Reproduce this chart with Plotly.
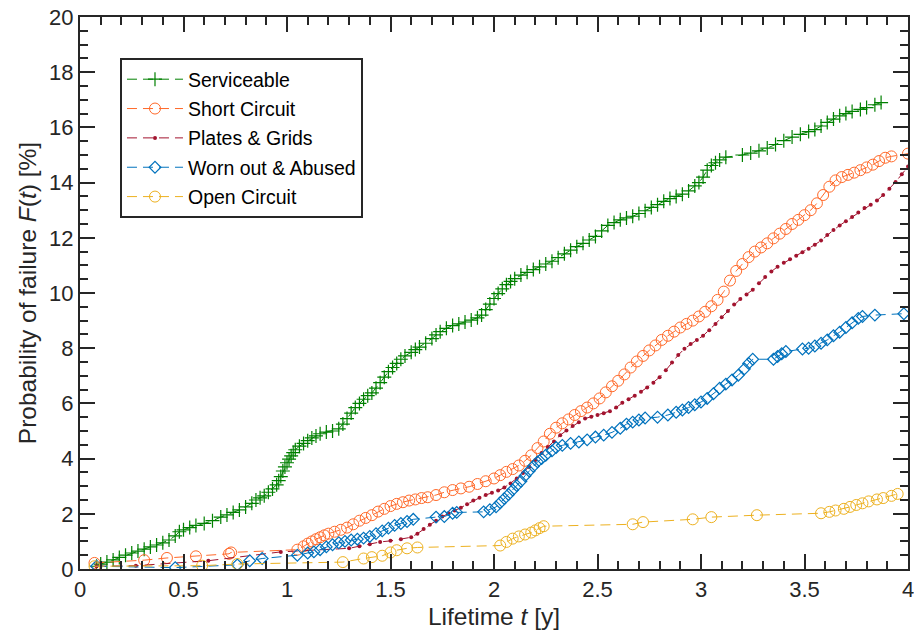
import plotly.graph_objects as go

# ---------------- data ----------------
serv_t = [0.08,0.10,0.13,0.16,0.19,0.22,0.25,0.28,0.31,0.34,0.37,0.40,0.43,0.46,0.48,0.50,0.53,0.56,0.60,0.64,
          0.68,0.71,0.74,0.77,0.80,0.83,0.85,0.87,0.89,0.91,0.93,0.95,0.96,0.97,0.98,0.99,1.00,1.01,1.02,1.03,
          1.04,1.06,1.08,1.10,1.12,1.14,1.16,1.19,1.22,1.25,1.27,1.29,1.31,1.33,1.35,1.37,1.39,1.41,1.43,1.45,
          1.47,1.49,1.51,1.53,1.55,1.57,1.60,1.62,1.64,1.67,1.70,1.72,1.74,1.77,1.80,1.83,1.86,1.89,1.92,1.94,
          1.96,1.98,2.00,2.02,2.04,2.06,2.08,2.10,2.13,2.16,2.19,2.22,2.25,2.28,2.31,2.34,2.37,2.40,2.43,2.46,
          2.49,2.52,2.55,2.58,2.61,2.64,2.67,2.70,2.73,2.76,2.79,2.82,2.85,2.88,2.91,2.94,2.97,2.99,3.01,3.03,
          3.05,3.07,3.09,3.12,3.20,3.24,3.28,3.32,3.36,3.40,3.44,3.48,3.52,3.55,3.58,3.61,3.64,3.67,3.70,3.73,
          3.77,3.80,3.84,3.87]
serv_F = [0.10,0.18,0.25,0.33,0.42,0.50,0.58,0.65,0.72,0.80,0.87,0.95,1.05,1.20,1.35,1.42,1.50,1.58,1.65,1.75,
          1.88,1.96,2.05,2.14,2.25,2.38,2.50,2.58,2.65,2.78,2.90,3.05,3.20,3.35,3.55,3.70,3.85,3.98,4.10,4.22,
          4.32,4.45,4.55,4.65,4.75,4.82,4.90,4.96,5.00,5.08,5.25,5.45,5.65,5.85,6.00,6.15,6.28,6.38,6.55,6.75,
          6.95,7.15,7.30,7.45,7.60,7.72,7.85,7.95,8.04,8.18,8.35,8.48,8.60,8.72,8.82,8.88,8.95,9.02,9.10,9.20,
          9.40,9.60,9.80,9.98,10.15,10.30,10.42,10.52,10.65,10.75,10.85,10.95,11.05,11.15,11.28,11.42,11.55,11.68,11.80,11.92,
          12.05,12.25,12.45,12.55,12.65,12.72,12.78,12.88,12.98,13.10,13.20,13.32,13.42,13.50,13.58,13.70,13.88,14.00,14.20,14.45,
          14.62,14.72,14.82,14.92,15.00,15.07,15.15,15.25,15.38,15.52,15.65,15.75,15.85,15.92,16.05,16.18,16.30,16.42,16.50,16.58,
          16.65,16.72,16.82,16.90]

short_t = [0.07,0.31,0.42,0.56,0.72,0.73,1.05,1.08,1.10,1.12,1.14,1.16,1.18,1.20,1.23,1.26,1.29,1.32,1.35,1.38,
           1.41,1.44,1.47,1.50,1.53,1.56,1.59,1.62,1.65,1.68,1.72,1.76,1.80,1.84,1.88,1.92,1.96,2.00,2.03,2.06,
           2.09,2.12,2.15,2.18,2.21,2.24,2.27,2.30,2.33,2.36,2.39,2.42,2.45,2.48,2.51,2.54,2.57,2.60,2.63,2.66,
           2.69,2.72,2.75,2.78,2.81,2.84,2.87,2.90,2.93,2.96,2.99,3.02,3.05,3.08,3.11,3.14,3.17,3.20,3.23,3.26,
           3.29,3.32,3.35,3.38,3.41,3.44,3.47,3.50,3.53,3.56,3.59,3.62,3.65,3.68,3.71,3.74,3.77,3.80,3.83,3.86,
           3.89,3.92,4.00]
short_F = [0.22,0.32,0.40,0.46,0.55,0.60,0.70,0.82,0.92,1.00,1.08,1.15,1.22,1.28,1.35,1.42,1.50,1.62,1.75,1.85,
           1.95,2.08,2.18,2.28,2.36,2.42,2.48,2.52,2.57,2.60,2.68,2.78,2.86,2.92,2.98,3.08,3.18,3.28,3.40,3.52,
           3.62,3.75,3.92,4.12,4.38,4.62,4.90,5.12,5.28,5.42,5.58,5.72,5.85,6.00,6.18,6.40,6.62,6.82,7.05,7.30,
           7.52,7.72,7.92,8.10,8.30,8.45,8.60,8.75,8.88,9.00,9.15,9.32,9.52,9.75,10.05,10.45,10.80,11.05,11.30,11.50,
           11.65,11.80,11.98,12.15,12.32,12.50,12.65,12.82,13.00,13.25,13.55,13.85,14.08,14.20,14.28,14.36,14.45,14.55,14.65,14.78,
           14.90,14.95,15.05]

plates_t = [0.08,0.27,0.62,0.97,1.30,1.35,1.40,1.45,1.50,1.55,1.60,1.63,1.66,1.69,1.72,1.75,1.78,1.81,1.84,1.87,
            1.90,1.93,1.96,1.99,2.02,2.05,2.08,2.11,2.14,2.17,2.20,2.23,2.26,2.29,2.32,2.35,2.38,2.41,2.44,2.47,
            2.50,2.53,2.56,2.59,2.62,2.65,2.68,2.71,2.74,2.77,2.80,2.83,2.86,2.89,2.92,2.95,2.98,3.01,3.04,3.07,
            3.10,3.13,3.16,3.19,3.22,3.25,3.28,3.31,3.34,3.37,3.40,3.43,3.46,3.49,3.52,3.55,3.58,3.61,3.64,3.67,
            3.70,3.73,3.76,3.79,3.82,3.85,3.88,3.91,3.94,3.97,4.00]
plates_F = [0.10,0.12,0.30,0.62,0.75,0.82,0.90,0.98,1.02,1.08,1.15,1.28,1.45,1.60,1.75,1.90,2.02,2.12,2.22,2.35,
            2.48,2.58,2.68,2.76,2.84,2.95,3.10,3.28,3.48,3.70,3.95,4.20,4.42,4.62,4.85,5.02,5.18,5.32,5.45,5.52,
            5.58,5.64,5.72,5.85,6.02,6.15,6.28,6.42,6.58,6.75,6.95,7.20,7.48,7.75,7.98,8.15,8.30,8.45,8.65,8.88,
            9.12,9.35,9.58,9.78,9.95,10.12,10.35,10.58,10.78,10.95,11.10,11.22,11.35,11.48,11.60,11.75,11.90,12.10,12.28,12.45,
            12.60,12.75,12.92,13.08,13.20,13.35,13.55,13.78,14.02,14.30,14.58]

worn_t = [0.08,0.46,0.76,0.82,0.88,1.05,1.10,1.13,1.16,1.19,1.22,1.25,1.28,1.31,1.34,1.37,1.40,1.43,1.46,1.49,
          1.52,1.55,1.58,1.61,1.72,1.76,1.80,1.82,1.95,1.98,2.01,2.03,2.05,2.07,2.09,2.11,2.13,2.15,2.17,2.19,
          2.21,2.23,2.25,2.28,2.30,2.33,2.37,2.41,2.45,2.49,2.53,2.57,2.61,2.64,2.67,2.70,2.73,2.79,2.84,2.88,
          2.91,2.94,2.97,3.00,3.03,3.06,3.09,3.12,3.15,3.18,3.21,3.23,3.25,3.35,3.37,3.39,3.41,3.49,3.52,3.55,
          3.58,3.61,3.64,3.67,3.70,3.73,3.76,3.78,3.84,3.98]
worn_F = [0.10,0.05,0.15,0.30,0.38,0.50,0.58,0.62,0.70,0.80,0.88,0.95,1.00,1.05,1.08,1.12,1.18,1.28,1.38,1.48,
          1.58,1.65,1.72,1.80,1.88,1.90,2.02,2.05,2.07,2.15,2.25,2.40,2.55,2.70,2.86,3.02,3.18,3.38,3.55,3.72,
          3.88,4.00,4.12,4.28,4.40,4.48,4.55,4.60,4.68,4.78,4.85,4.95,5.10,5.25,5.32,5.40,5.47,5.50,5.58,5.68,
          5.76,5.85,5.95,6.05,6.18,6.35,6.55,6.70,6.85,7.02,7.25,7.45,7.60,7.60,7.70,7.80,7.88,7.97,8.00,8.08,
          8.18,8.30,8.45,8.58,8.75,8.92,9.08,9.15,9.20,9.25]

open_t = [0.07,0.59,0.76,1.27,1.37,1.41,1.46,1.50,1.53,1.58,1.63,2.03,2.06,2.09,2.12,2.15,2.18,2.20,2.22,2.24,
          2.67,2.72,2.96,3.05,3.27,3.58,3.62,3.65,3.69,3.72,3.75,3.78,3.81,3.85,3.88,3.92,3.95]
open_F = [0.10,0.12,0.18,0.25,0.38,0.43,0.48,0.60,0.68,0.75,0.78,0.85,0.98,1.10,1.18,1.25,1.32,1.40,1.48,1.55,
          1.62,1.70,1.80,1.88,1.95,2.02,2.07,2.12,2.18,2.25,2.32,2.38,2.45,2.52,2.57,2.65,2.72]

names = ["Serviceable", "Short Circuit", "Plates &amp; Grids", "Worn out &amp; Abused", "Open Circuit"]
colors = ["#008000", "#FF6929", "#A2142F", "#0072BD", "#EDB120"]
x_ticks = [0, 0.5, 1, 1.5, 2, 2.5, 3, 3.5, 4]
x_ticklabels = ["0", "0.5", "1", "1.5", "2", "2.5", "3", "3.5", "4"]
y_ticks = [0, 2, 4, 6, 8, 10, 12, 14, 16, 18, 20]

series = [(serv_t, serv_F), (short_t, short_F), (plates_t, plates_F), (worn_t, worn_F), (open_t, open_F)]
markers = [dict(symbol="cross-thin-open", size=10, line=dict(width=1.2)),
           dict(symbol="circle-open", size=11, line=dict(width=1)),
           dict(symbol="circle", size=4, line=dict(width=0)),
           dict(symbol="diamond-open", size=9, line=dict(width=1.2)),
           dict(symbol="circle-open", size=11, line=dict(width=1))]

fig = go.Figure()
for i, ((t, F), name, col, mk) in enumerate(zip(series, names, colors, markers)):
    m = dict(mk)
    m["color"] = col
    m["line"] = dict(mk["line"], color=col)
    fig.add_trace(go.Scatter(
        x=t, y=F, mode="lines+markers", name=name, legendgroup=f"g{i}",
        line=dict(color=col, width=1, dash="10px,6px"),
        marker=m,
    ))

axis_col = "#262626"
font_family = "Liberation Sans, Arial, Helvetica, sans-serif"

fig.update_layout(
    width=914, height=637,
    margin=dict(l=80, r=6, t=17, b=68),
    paper_bgcolor="white", plot_bgcolor="white",
    font=dict(family=font_family, color=axis_col, size=18),
    showlegend=True,
    legend=dict(
        x=0.0483, y=0.9257, xanchor="left", yanchor="top",
        bgcolor="white", bordercolor=axis_col, borderwidth=2,
        font=dict(size=19.5, color="black"),
        itemwidth=56, tracegroupgap=1, traceorder="grouped",
    ),
)
fig.update_xaxes(
    range=[0, 4], tickvals=x_ticks, ticktext=x_ticklabels, automargin=False,
    ticklabeloverflow="allow",
    showgrid=False, zeroline=False,
    showline=True, linecolor=axis_col, linewidth=2, mirror="ticks",
    ticks="inside", ticklen=15, tickwidth=2, tickcolor=axis_col,
    minor=dict(ticks="inside", ticklen=8, tickwidth=2, tickcolor=axis_col, dtick=0.1, showgrid=False),
    tickfont=dict(size=22, color=axis_col),
    title=dict(text="Lifetime <i>t</i> [y]", font=dict(size=24.5, color=axis_col), standoff=6),
)
fig.update_yaxes(
    range=[0, 20], tickvals=y_ticks, automargin=False,
    ticklabeloverflow="allow",
    showgrid=False, zeroline=False,
    showline=True, linecolor=axis_col, linewidth=2, mirror="ticks",
    ticks="inside", ticklen=15, tickwidth=2, tickcolor=axis_col,
    minor=dict(ticks="inside", ticklen=8, tickwidth=2, tickcolor=axis_col, dtick=0.5, showgrid=False),
    tickfont=dict(size=22, color=axis_col),
    title=dict(text="Probability of failure <i>F</i>(<i>t</i>) [%]", font=dict(size=24.5, color=axis_col), standoff=6),
)

# remove the page's default 8px body margin so the figure fills the window exactly; hide the modebar
fig.write_html("out.html", config={"displayModeBar": False},
               post_script="document.body.style.margin='0px';")
